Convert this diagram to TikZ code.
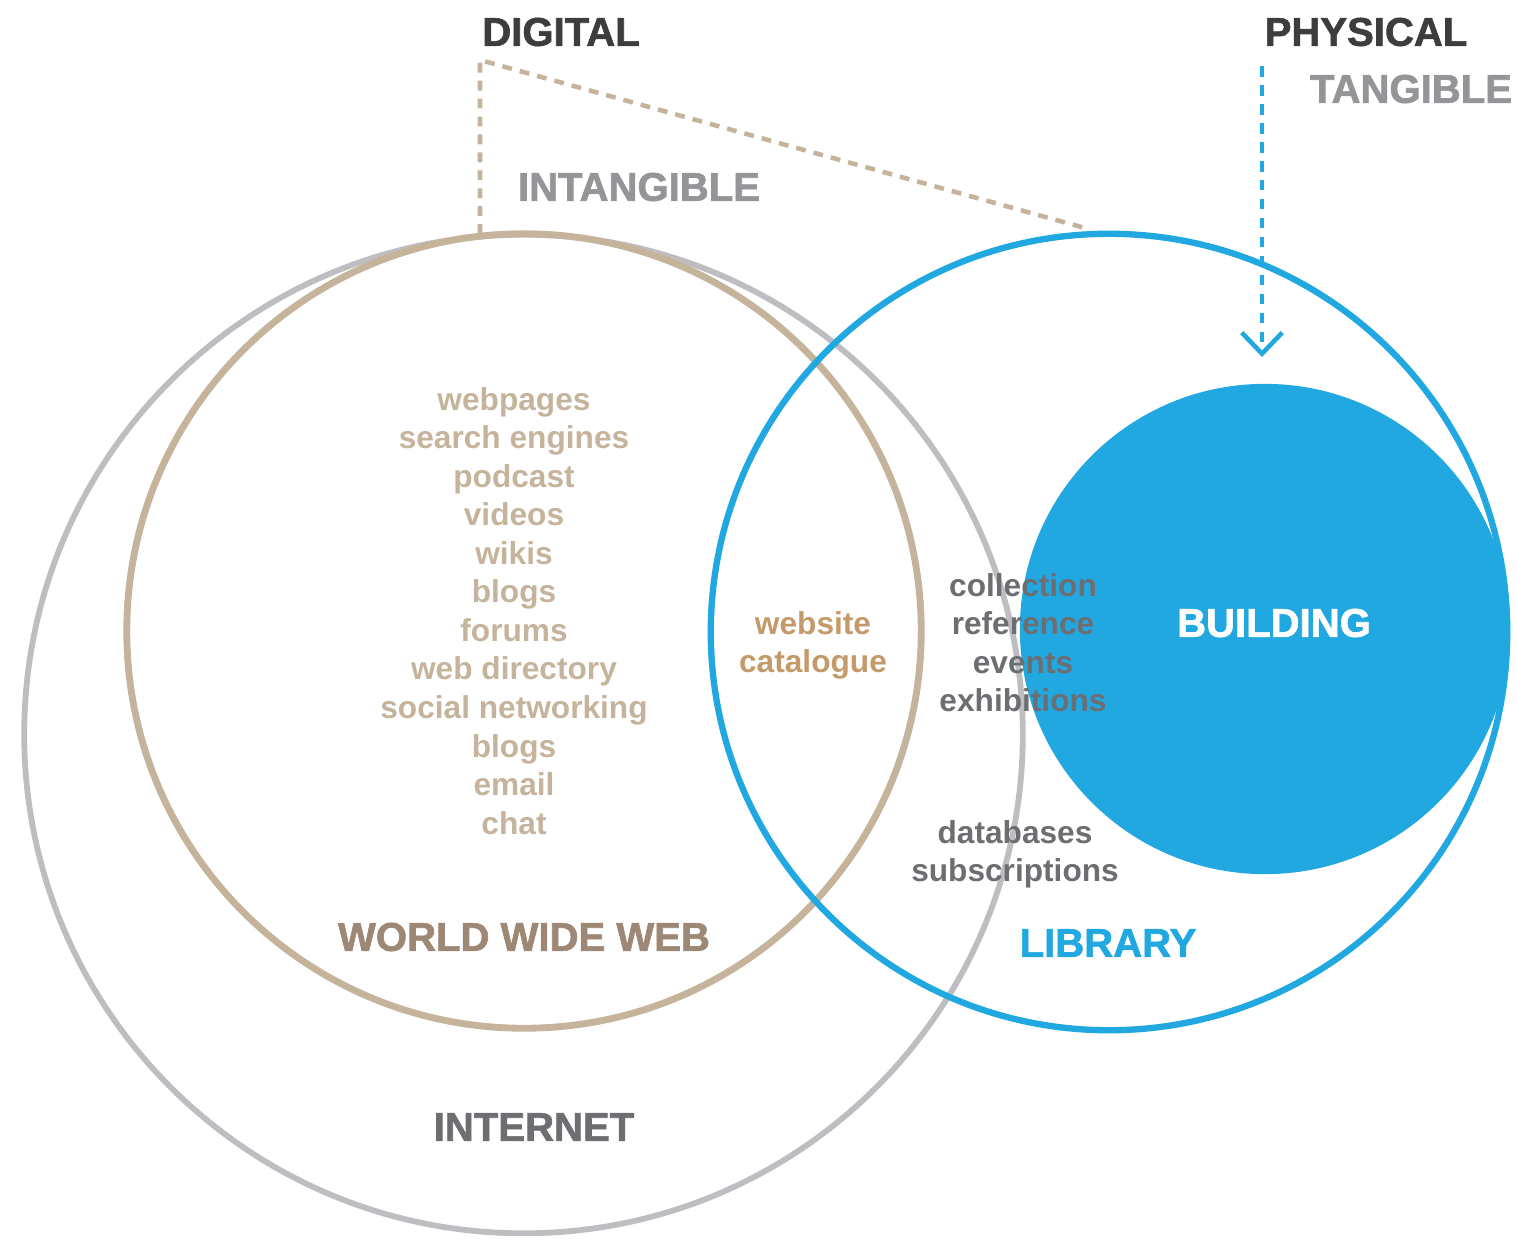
\documentclass[tikz,border=0pt]{standalone}
\usepackage{fontspec}
\setmainfont{Liberation Sans}
\newfontfamily\headfont[FakeBold=1.6]{Liberation Sans Bold}
\usepackage{tikz}
\usetikzlibrary{positioning}
\usetikzlibrary{arrows.meta}

\definecolor{darkhead}{HTML}{3D3D3D}
\definecolor{greyhead}{HTML}{939598}
\definecolor{nettext}{HTML}{6D6E71}
\definecolor{webtext}{HTML}{9D8775}
\definecolor{tanlist}{HTML}{C5B49B}
\definecolor{sitetext}{HTML}{C49A6A}
\definecolor{libblue}{HTML}{22A8E0}
\definecolor{netgrey}{HTML}{BEBEC2}

\begin{document}
\begin{tikzpicture}[x=0.01cm,y=-0.01cm,node distance=0.385cm,
                    >={Straight Barb[length=6pt,width=11.5pt]}]
\tikzstyle{head}=[inner sep=0pt,font=\fontsize{11.4pt}{13pt}\selectfont\headfont]
\tikzstyle{item}=[inner sep=0pt,text height=0.74em,text depth=0.21em,
                  font=\fontsize{9pt}{11pt}\selectfont\bfseries]
\tikzstyle{ring}=[circle,inner sep=0pt]

  \useasboundingbox (0,0) rectangle (1516,1239);

        % filled building first, rings on top
        \node[ring,fill=libblue,minimum size=4.9cm]                   (building) at (1265,629) {};
        \node[ring,draw=netgrey,line width=1.65pt,minimum size=9.98cm] (internet) at (523.5,734) {};
        \node[ring,draw=tanlist,line width=1.95pt,minimum size=7.94cm]  (www)      at (524,631) {};
        \node[ring,draw=libblue,line width=1.8pt,minimum size=7.96cm]  (library)  at (1109,632) {};

        % headings
        \node[head,text=darkhead]  (digital)    at (561,32)   {DIGITAL};
        \node[head,text=darkhead]  (physical)   at (1366,32)  {PHYSICAL};
        \node[head,text=greyhead]  (tangible)   at (1411,89)  {TANGIBLE};
        \node[head,text=greyhead]  (intangible) at (639,187)  {INTANGIBLE};
        \node[head,text=webtext]   (wwwlabel)   at (524,937)  {WORLD WIDE WEB};
        \node[head,text=nettext]   (netlabel)   at (534,1127) {INTERNET};
        \node[head,text=libblue]   (liblabel)   at (1108,943) {LIBRARY};
        \node[head,text=white]     (buildlabel) at (1274,623) {BUILDING};

        % web services
        \node[item,text=tanlist]   (w0)                    at (514,401) {webpages};
        \node[item,text=tanlist]   (w1)  [below of=w0]     {search engines};
        \node[item,text=tanlist]   (w2)  [below of=w1]     {podcast};
        \node[item,text=tanlist]   (w3)  [below of=w2]     {videos};
        \node[item,text=tanlist]   (w4)  [below of=w3]     {wikis};
        \node[item,text=tanlist]   (w5)  [below of=w4]     {blogs};
        \node[item,text=tanlist]   (w6)  [below of=w5]     {forums};
        \node[item,text=tanlist]   (w7)  [below of=w6]     {web directory};
        \node[item,text=tanlist]   (w8)  [below of=w7]     {social networking};
        \node[item,text=tanlist]   (w9)  [below of=w8]     {blogs};
        \node[item,text=tanlist]   (w10) [below of=w9]     {email};
        \node[item,text=tanlist]   (w11) [below of=w10]    {chat};

        % overlap web / library
        \node[item,text=sitetext]  (s0)                    at (813,625) {website};
        \node[item,text=sitetext]  (s1)  [below of=s0]     {catalogue};

        % library services
        \node[item,text=nettext]   (l0)                    at (1023,587) {collection};
        \node[item,text=nettext]   (l1)  [below of=l0]     {reference};
        \node[item,text=nettext]   (l2)  [below of=l1]     {events};
        \node[item,text=nettext]   (l3)  [below of=l2]     {exhibitions};

        \node[item,text=nettext]   (d0)                    at (1015,834) {databases};
        \node[item,text=nettext]   (d1)  [below of=d0]     {subscriptions};

        % dashed guides
        \coordinate (digfoot)   at (480,234);
        \coordinate (digcorner) at (480,60);
        \coordinate (digend)    at (1085,228);
        \coordinate (physstart) at (1262,66);
        \coordinate (physend)   at (1262,357);

        \draw[tanlist,line width=1.3pt,dash pattern=on 2.8pt off 2.3pt]
          (digfoot) -- (digcorner) -- (digend);
        \draw[->,libblue,line width=1.3pt,dash pattern=on 3pt off 2.4pt]
          (physstart) -- (physend);

\end{tikzpicture}
\end{document}
